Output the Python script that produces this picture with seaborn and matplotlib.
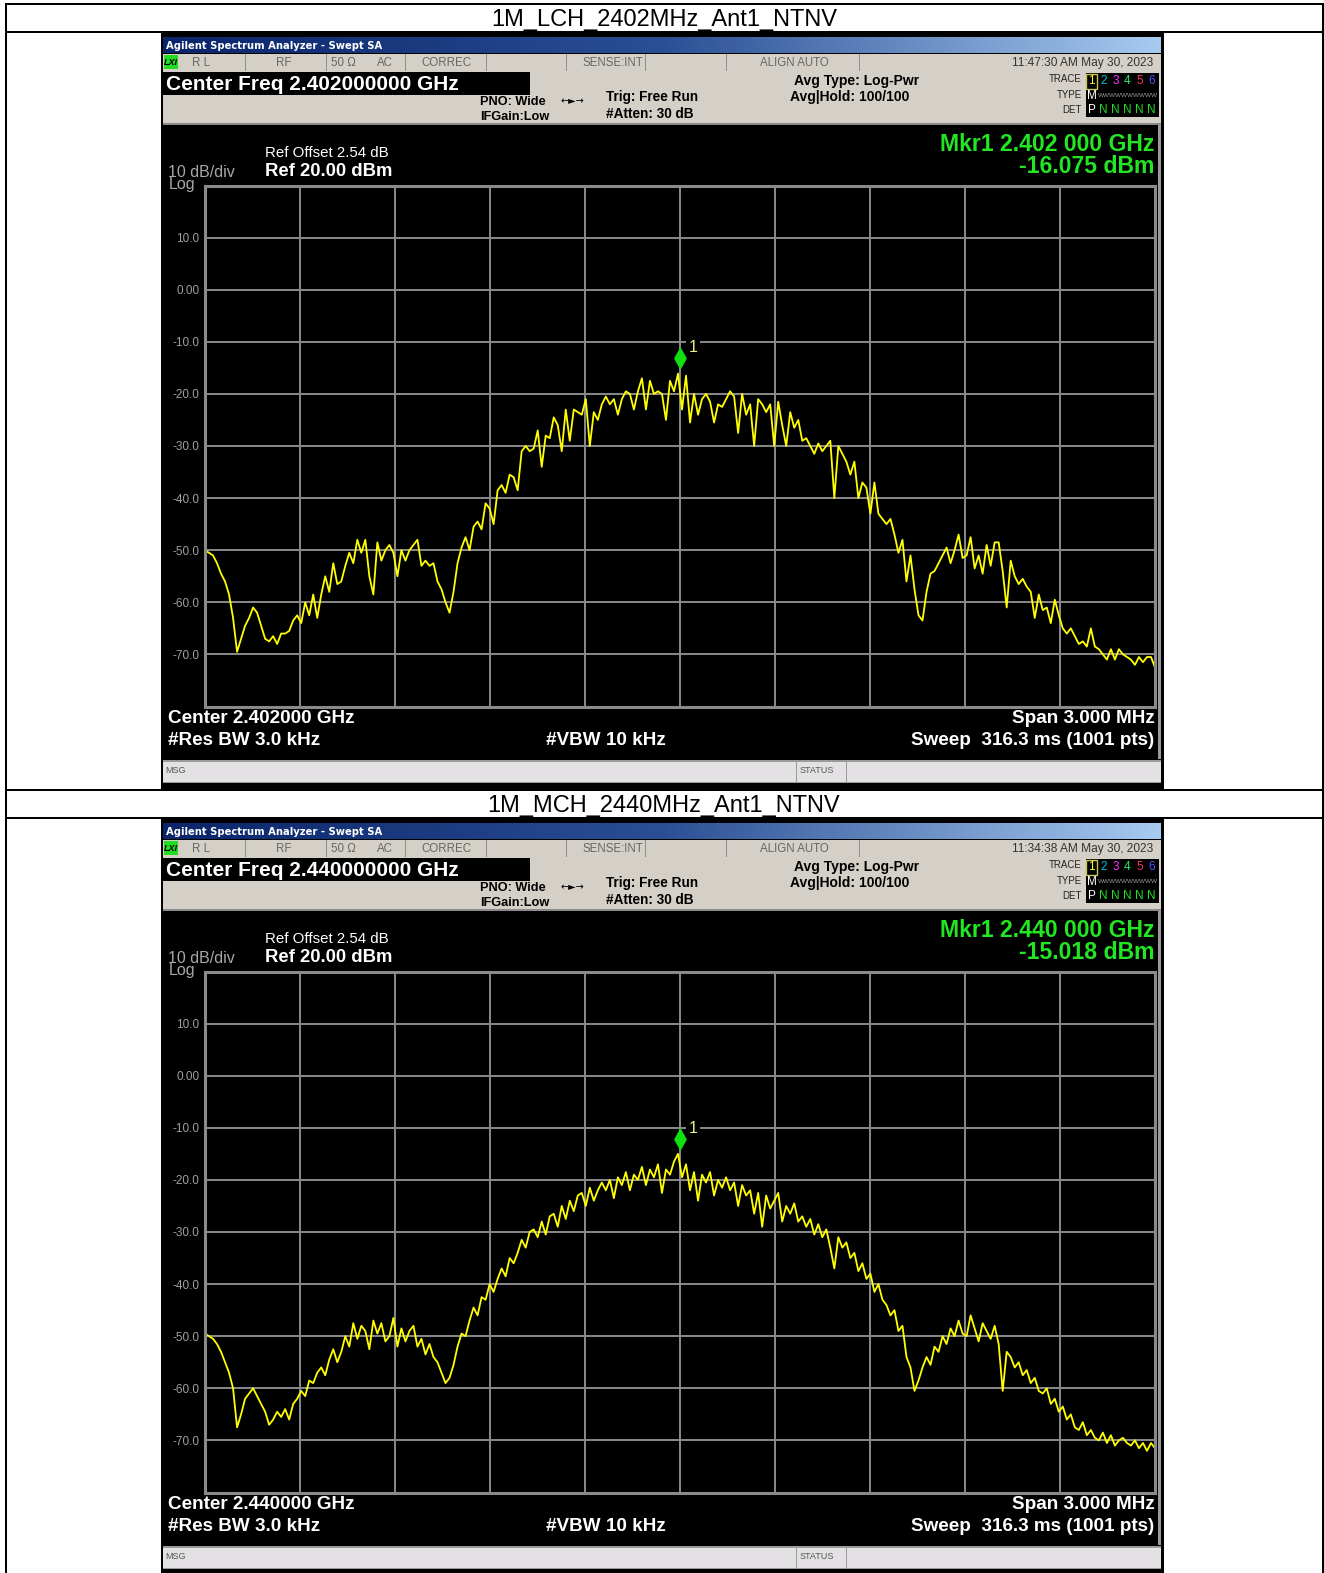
import numpy as np
import pandas as pd
import matplotlib
matplotlib.use("Agg")
import matplotlib.pyplot as plt
from matplotlib.patches import Rectangle
from matplotlib.path import Path
from matplotlib.colors import LinearSegmentedColormap
import seaborn as sns

W, H, DPI = 1324, 1573, 100
SANS = ["Liberation Sans", "DejaVu Sans"]

# ---------------- data ----------------
titles = ["1M_LCH_2402MHz_Ant1_NTNV", "1M_MCH_2440MHz_Ant1_NTNV"]
center_mhz = [2402.0, 2440.0]
center_freq_text = ["Center Freq 2.402000000 GHz", "Center Freq 2.440000000 GHz"]
center_text = ["Center 2.402000 GHz", "Center 2.440000 GHz"]
timestamps = ["11:47:30 AM May 30, 2023", "11:34:38 AM May 30, 2023"]
marker_freq_text = ["Mkr1 2.402 000 GHz", "Mkr1 2.440 000 GHz"]
marker_dbm = [-16.075, -15.018]
span_mhz = 3.0
y_ticks = [20, 10, 0, -10, -20, -30, -40, -50, -60, -70, -80]
y_tick_labels = ["", "10.0", "0.00", "-10.0", "-20.0", "-30.0", "-40.0",
                 "-50.0", "-60.0", "-70.0", ""]

lch_dbm = [
    -50, -50.5, -51, -52.5, -54.5, -56, -58.5, -63, -69.5, -67,
    -64.5, -63, -61, -62, -64.5, -67, -67.5, -66.5, -68, -66,
    -66, -65.5, -63.5, -62.5, -64, -60, -62.5, -58.5, -63, -58.5,
    -55, -58, -52.5, -56.5, -56, -53, -50.5, -52.5, -48, -50.5,
    -48, -55, -58.5, -48.5, -52, -50, -49, -50.5, -55, -50,
    -52, -50, -49, -48, -53, -52, -53, -52.5, -56, -57.5,
    -60, -62, -58, -52.5, -49.5, -47.5, -50, -45.5, -44.5, -46,
    -41, -42, -45, -38.5, -37.5, -39, -35.5, -36, -38.5, -31,
    -30, -31, -30.5, -27, -34, -28, -28.5, -24.5, -26, -31,
    -23, -29, -23, -23.5, -24, -21, -30, -23.5, -25, -22,
    -20.5, -22, -21, -24, -21, -19.5, -20, -23, -19.5, -17,
    -23, -17.5, -20, -19.5, -20, -25, -17.5, -19.5, -16.1, -23,
    -16.5, -25.5, -20, -24, -21, -20, -21.5, -25.5, -22, -22.5,
    -21, -19.5, -20.5, -27.5, -20, -24, -22, -30, -21, -22,
    -23.5, -22, -30, -21.5, -26, -30, -23.5, -26.5, -25, -29,
    -28.5, -30, -31.5, -29.5, -31, -30, -29, -40, -30, -31.5,
    -33, -35.5, -33, -40, -37, -38, -43, -37, -43, -44,
    -45, -44, -47, -50.5, -48, -56, -51, -57.5, -62.5, -63.5,
    -58, -54.5, -54, -52.5, -51, -49.5, -52.5, -50, -47, -51.5,
    -51, -47.5, -53.5, -51, -54.5, -49, -53, -48.5, -48.5, -54,
    -61, -52, -55, -56.5, -55.5, -57, -58, -63, -58.5, -61.5,
    -61, -64, -59.5, -62.5, -65, -66, -65, -66.5, -68, -67.5,
    -68.5, -65, -68.5, -69, -70, -71, -69, -71, -69, -70,
    -70.5, -71, -72, -70.5, -71.5, -70.5, -70.5, -72.5,
]

mch_dbm = [
    -49.5, -50, -50.5, -51.5, -53, -55, -57, -60, -67.5, -65,
    -62, -61, -60, -61.5, -63, -64.5, -67, -66, -64.5, -65.5,
    -64, -66, -63, -62, -60.5, -61.5, -58.5, -59, -57, -56,
    -57.5, -54.5, -52.5, -55, -53, -50, -52, -47.5, -50.5, -48,
    -49, -52.5, -47, -49.5, -47.5, -51, -50, -46.5, -52, -48.5,
    -51, -49, -48, -52, -50.5, -53.5, -51.5, -54, -55, -57,
    -59, -58, -55.5, -52, -49.5, -50, -47, -44.5, -46, -42.5,
    -43, -40, -41.5, -39, -37, -38.5, -35, -36, -34, -31.5,
    -33, -30, -29.5, -31, -28, -30.5, -27, -26.5, -29, -25,
    -27.5, -24, -26, -23, -22.5, -25, -21.5, -24, -22, -20.5,
    -22, -20, -23.5, -19.5, -21, -18.5, -22, -19, -20, -17.5,
    -21, -18, -19.5, -17, -22.5, -18, -19, -16.5, -15.0, -19.5,
    -17, -22, -18.5, -24, -19, -20.5, -18.5, -23, -20, -21.5,
    -19.5, -22, -20.5, -25, -21, -23, -22, -26.5, -22.5, -29,
    -23, -25.5, -24, -22.5, -28, -25, -26.5, -24.5, -28, -27,
    -29, -27.5, -30.5, -28.5, -31, -29.5, -33, -37, -31, -33,
    -32, -35, -34, -37.5, -36, -39, -38, -41.5, -40, -43,
    -44, -46, -45, -49, -48, -54, -56, -60.5, -58.5, -56,
    -54, -55.5, -52, -53, -50, -51.5, -48.5, -50, -47, -49.5,
    -50, -46, -48.5, -51, -47.5, -49, -50.5, -48, -51.5, -60.5,
    -53, -54, -56, -55, -57.5, -56.5, -59, -58, -60.5, -61,
    -60, -63, -62, -64.5, -63.5, -66, -65, -67.5, -68, -66.5,
    -69, -68, -69.5, -70, -68.5, -70.5, -69, -71, -70, -69.5,
    -70.5, -71, -70, -71.5, -70.5, -72, -70.5, -71.5,
]
traces = [lch_dbm, mch_dbm]

# ---------------- figure ----------------
fig = plt.figure(figsize=(W / DPI, H / DPI), dpi=DPI)
fig.patch.set_facecolor("white")
bg = fig.add_axes([0, 0, 1, 1])
bg.set_axis_off()


def rect(x0, y0, x1, y1, color, z=1):
    bg.add_patch(Rectangle((x0, y0), x1 - x0, y1 - y0, facecolor=color,
                           edgecolor="none", zorder=z))


def txt(x, y, s, size, color="black", weight="normal", ha="left", va="center",
        family=SANS, z=5, **kw):
    bg.text(x, y + 0.16 * size, s, fontsize=size, color=color, fontweight=weight,
            ha=ha, va=va, family=family, zorder=z, **kw)


tb_cmap = LinearSegmentedColormap.from_list("tb", ["#0a246a", "#2a4f95", "#a6caf0"])
grad = np.linspace(0, 1, 256).reshape(1, -1)

diamond = Path([(0, 1), (0.56, 0), (0, -1), (-0.56, 0), (0, 1)],
               [Path.MOVETO, Path.LINETO, Path.LINETO, Path.LINETO, Path.CLOSEPOLY])

PANEL_DY = 786
for i in range(2):
    oy = i * PANEL_DY
    # table title cell
    txt(664, 17.5 + oy, titles[i], 17, "black", ha="center", va="center")
    # screenshot frame
    rect(160.5, 33 + oy, 1164, min(790 + oy, H), "black", z=1)
    # title bar gradient
    bg.imshow(grad, extent=(163, 1161, 53 + oy, 37 + oy), aspect="auto",
              cmap=tb_cmap, zorder=2)
    txt(165.5, 45 + oy, "Agilent Spectrum Analyzer - Swept SA", 7.2, "white",
        "bold", family=["DejaVu Sans"])
    # status row
    rect(163, 53.5 + oy, 1161, 71 + oy, "#d4d0c8", z=2)
    for sx in [245, 326, 405, 486, 566, 645, 726, 859]:
        rect(sx, 54 + oy, sx + 1.2, 70.5 + oy, "#8f8f8f", z=3)
    rect(163.5, 55 + oy, 178, 69 + oy, "#22dd22", z=3)
    txt(170.5, 61.5 + oy, "LXI", 6.5, "black", "bold", ha="center", style="italic")
    st = "#666666"
    txt(192.5, 61.5 + oy, "R L", 8.3, st)
    txt(284, 61.5 + oy, "RF", 8.3, st, ha="center")
    txt(331, 61.5 + oy, "50 Ω", 8.3, st)
    txt(377, 61.5 + oy, "AC", 8.3, st)
    txt(421, 61.5 + oy, "CORREC", 8.3, st)
    txt(613, 61.5 + oy, "SENSE:INT", 8.3, st, ha="center")
    txt(794, 61.5 + oy, "ALIGN AUTO", 8.3, st, ha="center")
    txt(1153, 61.5 + oy, timestamps[i], 8.6, "#333333", ha="right")
    # settings area
    rect(163, 71 + oy, 1161, 125 + oy, "#d4d0c8", z=2)
    rect(163, 122.5 + oy, 1161, 125 + oy, "#8a8a8a", z=3)
    rect(163, 71.5 + oy, 530, 94.5 + oy, "black", z=3)
    txt(166.5, 82.5 + oy, center_freq_text[i], 15.0, "white", "bold")
    txt(480.5, 100.5 + oy, "PNO: Wide", 9.2, "black", "bold")
    txt(480.5, 115.5 + oy, "IFGain:Low", 9.2, "black", "bold")
    txt(572, 99.5 + oy, "←►→", 7, "black", ha="center", family=["DejaVu Sans"])
    txt(606, 95.5 + oy, "Trig: Free Run", 9.8, "black", "bold")
    txt(606, 112.5 + oy, "#Atten: 30 dB", 9.8, "black", "bold")
    txt(794.5, 79 + oy, "Avg Type: Log-Pwr", 10, "black", "bold")
    txt(790.5, 95.5 + oy, "Avg|Hold: 100/100", 10, "black", "bold")
    txt(1082, 78 + oy, "TRACE", 7, "#222222", ha="right")
    txt(1082, 93.5 + oy, "TYPE", 7, "#222222", ha="right")
    txt(1082, 108.5 + oy, "DET", 7, "#222222", ha="right")
    rect(1085.5, 73 + oy, 1158.5, 117 + oy, "black", z=3)
    bg.add_patch(Rectangle((1086, 73.5 + oy), 11, 15, facecolor="none",
                           edgecolor="#c8c850", lw=1.0, zorder=4))
    for k, (d, c) in enumerate(zip("123456", ["#ffff00", "#00c8d0", "#ff30ff",
                                             "#30e870", "#ff3060", "#5050ff"])):
        txt(1091.5 + k * 12.0, 80 + oy, d, 8.5, c, ha="center")
    txt(1091.5, 94.5 + oy, "M", 8.5, "white", ha="center")
    txt(1098, 94.5 + oy, "WWWWWWWWWW", 4.6, "#9a9a9a")
    txt(1091.5, 108.5 + oy, "P", 8.5, "white", ha="center")
    for k in range(5):
        txt(1103.5 + k * 12.0, 108.5 + oy, "N", 8.5, "#22dd22", ha="center")
    # black display area
    rect(163, 125 + oy, 1161, 759 + oy, "black", z=2)
    rect(1158, 125 + oy, 1161, 759 + oy, "#9a9a9a", z=3)
    txt(265, 151.5 + oy, "Ref Offset 2.54 dB", 10.8, "white")
    txt(265, 169.5 + oy, "Ref 20.00 dBm", 13.3, "white", "bold")
    txt(168.5, 170.5 + oy, "10 dB/div", 11.5, "#a8a8a8")
    txt(168.5, 183 + oy, "Log", 11.5, "#a8a8a8")
    txt(1154.5, 141.5 + oy, marker_freq_text[i], 16.6, "#22e622", "bold", ha="right")
    txt(1154.5, 163.5 + oy, f"{marker_dbm[i]:.3f} dBm", 16.6, "#22e622", "bold",
        ha="right")
    txt(167.5, 716.5 + oy, center_text[i], 13.6, "white", "bold")
    txt(167.5, 738.5 + oy, "#Res BW 3.0 kHz", 13.6, "white", "bold")
    txt(546.5, 738.5 + oy, "#VBW 10 kHz", 13.6, "white", "bold")
    txt(1154.5, 716.5 + oy, f"Span {span_mhz:.3f} MHz", 13.6, "white", "bold", ha="right")
    txt(1154.5, 738.5 + oy, "Sweep  316.3 ms (1001 pts)", 13.6, "white", "bold",
        ha="right")
    # message bar
    rect(163, 760 + oy, 1161, 783 + oy, "#e4e1e4", z=2)
    rect(163, 760 + oy, 1161, 761.5 + oy, "#9a9a9a", z=3)
    rect(163, 781.5 + oy, 1161, 783 + oy, "#9a9a9a", z=3)
    rect(796, 761 + oy, 797.2, 782 + oy, "#9a9a9a", z=3)
    rect(846, 761 + oy, 847.2, 782 + oy, "#9a9a9a", z=3)
    txt(165.5, 769.5 + oy, "MSG", 6.5, "#555555")
    txt(799.5, 769.5 + oy, "STATUS", 6.5, "#555555")

    # ---------------- spectrum plot ----------------
    top, bot = 185.5 + oy, 706.5 + oy
    left, right = 205, 1155
    ax = fig.add_axes([left / W, 1 - bot / H, (right - left) / W, (bot - top) / H])
    ax.set_facecolor("black")
    f0 = center_mhz[i] - span_mhz / 2
    f1 = center_mhz[i] + span_mhz / 2
    trace = traces[i]
    df = pd.DataFrame({"freq": np.linspace(f0, f1, len(trace)), "level": trace})
    sns.lineplot(data=df, x="freq", y="level", ax=ax, color="#ffff00", lw=1.3,
                 estimator=None, legend=False)
    ax.set_xlim(f0, f1)
    ax.set_ylim(-80, 20)
    ax.set_xticks(np.linspace(f0, f1, 11))
    ax.set_yticks(y_ticks)
    ax.set_yticklabels(y_tick_labels)
    ax.tick_params(axis="both", length=0, labelbottom=False)
    ax.tick_params(axis="y", colors="#a0a0a0", labelsize=8.5, pad=4)
    for lab in ax.get_yticklabels():
        lab.set_family(SANS)
    ax.set_axisbelow(True)
    ax.grid(True, color="#8a8a8a", lw=1.4)
    for sp in ax.spines.values():
        sp.set_color("#8a8a8a")
        sp.set_linewidth(2.2)
    ax.set_xlabel("")
    ax.set_ylabel("")
    # marker
    ax.plot([center_mhz[i]], [marker_dbm[i] + 2.95], marker=diamond,
            markersize=16.5, color="#10e010", markeredgewidth=0, zorder=6)
    ax.annotate("1", xy=(center_mhz[i], marker_dbm[i]), xytext=(9.5, 18.5),
                textcoords="offset points", fontsize=11.5, color="#f0f08a",
                ha="center", va="center", family=SANS,
                bbox=dict(boxstyle="square,pad=0.15", fc="black", ec="none"))

# ---------------- table lines ----------------
rect(5, 2.5, 1324, 4.8, "black", z=6)
rect(5, 2.5, 7.3, H, "black", z=6)
rect(1321.5, 2.5, 1324, H, "black", z=6)
rect(5, 30.8, 1324, 33, "black", z=6)
rect(5, 788.8, 1324, 791, "black", z=6)
rect(5, 816.5, 1324, 818.8, "black", z=6)

bg.set_xlim(0, W)
bg.set_ylim(H, 0)

fig.savefig("out.png", dpi=DPI, facecolor="white")
